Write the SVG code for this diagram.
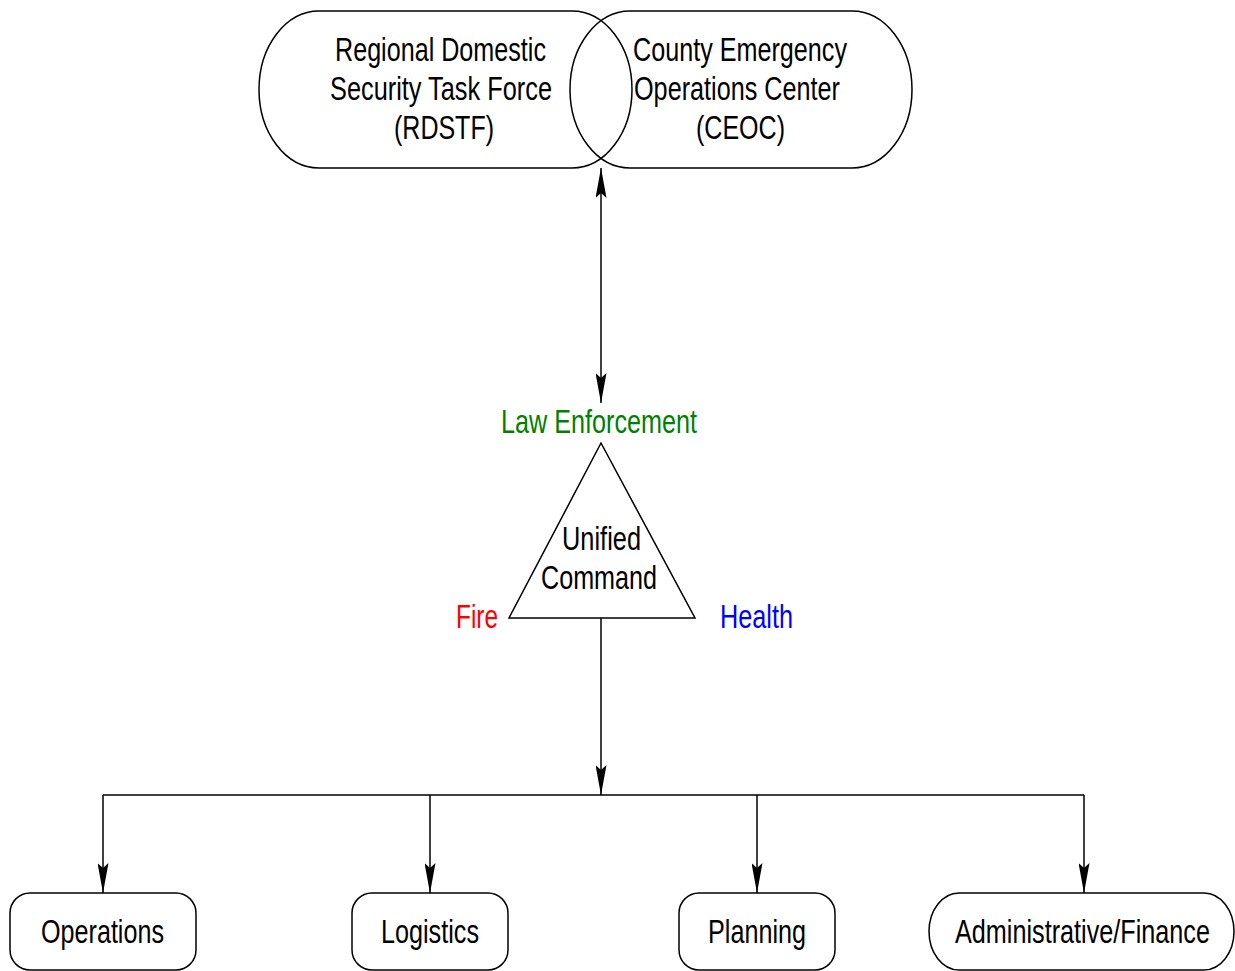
<svg xmlns="http://www.w3.org/2000/svg" width="1235" height="971" viewBox="0 0 1235 971">
<style>
.shape{fill:none;stroke:#000;stroke-width:1.5}
.conn{fill:none;stroke:#000;stroke-width:1.5}
text{font-family:"Liberation Sans",Arial,sans-serif;font-size:33px;text-anchor:middle;fill:#000}
</style>
<defs>
<marker id="ah" viewBox="0 0 30 11" refX="30" refY="5.5" markerWidth="30" markerHeight="11" markerUnits="userSpaceOnUse" orient="auto-start-reverse">
<path d="M0,0 L30,5.5 L0,11 L5,5.5 Z" fill="#000"/>
</marker>
</defs>
<rect width="1235" height="971" fill="#fff"/>
<g id="connectors">
<line class="conn" x1="601" y1="168" x2="601" y2="403" marker-start="url(#ah)" marker-end="url(#ah)"/>
<line class="conn" x1="601" y1="618" x2="601" y2="795" marker-end="url(#ah)"/>
<line class="conn" x1="103" y1="795" x2="1084" y2="795"/>
<line class="conn" x1="103" y1="795" x2="103" y2="893" marker-end="url(#ah)"/>
<line class="conn" x1="430" y1="795" x2="430" y2="893" marker-end="url(#ah)"/>
<line class="conn" x1="757" y1="795" x2="757" y2="893" marker-end="url(#ah)"/>
<line class="conn" x1="1084" y1="795" x2="1084" y2="893" marker-end="url(#ah)"/>
</g>
<g id="rdstf">
<path class="shape" d="M319,11 H572 A60,78.5 0 0 1 572,168 H319 A60,78.5 0 0 1 319,11 Z"/>
<text x="440.5" y="61" textLength="211" lengthAdjust="spacingAndGlyphs">Regional Domestic</text>
<text x="441" y="100" textLength="222" lengthAdjust="spacingAndGlyphs">Security Task Force</text>
<text x="444" y="139" textLength="100" lengthAdjust="spacingAndGlyphs">(RDSTF)</text>
</g>
<g id="ceoc">
<path class="shape" d="M630,11 H852 A60,78.5 0 0 1 852,168 H630 A60,78.5 0 0 1 630,11 Z"/>
<text x="740" y="61" textLength="214" lengthAdjust="spacingAndGlyphs">County Emergency</text>
<text x="737" y="100" textLength="206" lengthAdjust="spacingAndGlyphs">Operations Center</text>
<text x="740.5" y="139" textLength="89" lengthAdjust="spacingAndGlyphs">(CEOC)</text>
</g>
<g id="unified-command">
<polygon class="shape" points="601,443 509,618 695,618"/>
<text x="601.5" y="550" textLength="79" lengthAdjust="spacingAndGlyphs">Unified</text>
<text x="599" y="589" textLength="116" lengthAdjust="spacingAndGlyphs">Command</text>
<text x="599" y="433" style="fill:#008000" textLength="196" lengthAdjust="spacingAndGlyphs">Law Enforcement</text>
<text x="477" y="628" style="fill:#ff0000" textLength="42" lengthAdjust="spacingAndGlyphs">Fire</text>
<text x="756.5" y="628" style="fill:#0000ff" textLength="73" lengthAdjust="spacingAndGlyphs">Health</text>
</g>
<g id="operations">
<rect class="shape" x="10" y="893" width="186" height="77" rx="20" ry="20"/>
<text x="102.5" y="943" textLength="123" lengthAdjust="spacingAndGlyphs">Operations</text>
</g>
<g id="logistics">
<rect class="shape" x="352" y="893" width="156" height="77" rx="20" ry="20"/>
<text x="430" y="943" textLength="98" lengthAdjust="spacingAndGlyphs">Logistics</text>
</g>
<g id="planning">
<rect class="shape" x="679" y="893" width="156" height="77" rx="20" ry="20"/>
<text x="757" y="943" textLength="98" lengthAdjust="spacingAndGlyphs">Planning</text>
</g>
<g id="admin-finance">
<path class="shape" d="M959,893 H1204 A30,38.5 0 0 1 1204,970 H959 A30,38.5 0 0 1 959,893 Z"/>
<text x="1082.5" y="943" textLength="255" lengthAdjust="spacingAndGlyphs">Administrative/Finance</text>
</g>
</svg>
